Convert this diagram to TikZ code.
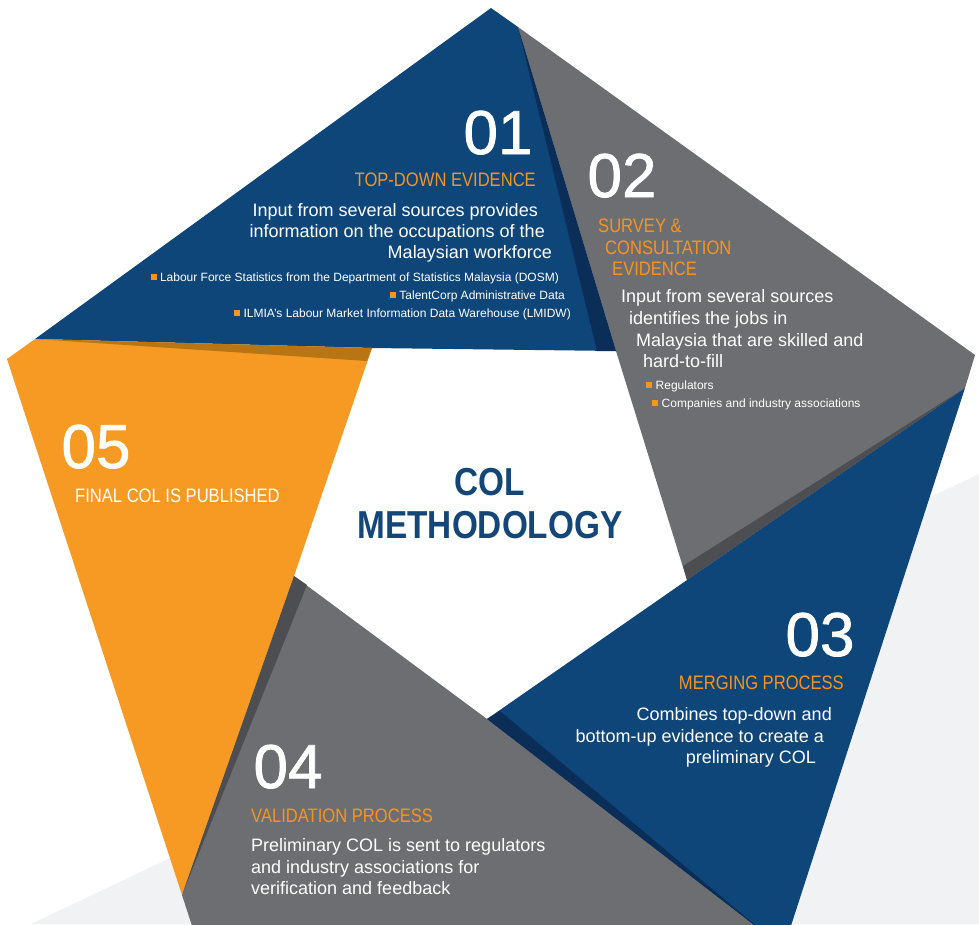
\documentclass[tikz,border=0pt]{standalone}
\usepackage{fontspec}
\setmainfont{Liberation Sans}
\newfontfamily\numfont{Liberation Sans}[FakeBold=1.2]
\usepackage{graphicx}
\definecolor{cblue}{RGB}{15,70,122}
\definecolor{cdblue}{RGB}{10,46,88}
\definecolor{cgray}{RGB}{109,110,113}
\definecolor{cdgray}{RGB}{77,78,81}
\definecolor{corange}{RGB}{246,154,35}
\definecolor{cbrown}{RGB}{184,117,20}
\definecolor{torange}{RGB}{247,148,29}
\definecolor{tblue}{RGB}{20,70,120}
\definecolor{bglight}{RGB}{241,242,244}
\newcommand\hd[1]{\scalebox{0.85}[1]{\fontsize{19.5}{22}\selectfont #1}}
\newcommand\bsq{\textcolor{torange}{\rule[1pt]{6pt}{6pt}}\hspace{3.5pt}}
\tikzset{
  body/.style={text=white, font=\fontsize{18}{21}\selectfont, inner sep=0pt},
  bul/.style={text=white, font=\fontsize{12}{14}\selectfont, inner sep=0pt},
  head/.style={text=torange, inner sep=0pt},
  num/.style={text=white, font=\numfont\fontsize{62}{62}\selectfont, inner sep=0pt, anchor=base},
  ctitle/.style={text=tblue, inner sep=0pt, anchor=base}
}
\begin{document}
\begin{tikzpicture}[x=1pt,y=-1pt]
\useasboundingbox (0,0) rectangle (979,924);
\clip (0,0) rectangle (979,924);
\fill[bglight] (31,924) -- (979,474) -- (979,924) -- cycle;
% outer vertices
\coordinate (Vt) at (491,8);
\coordinate (Vr) at (975,355);
\coordinate (Vbr) at (788,935);
\coordinate (Vbl) at (195,935);
\coordinate (Vl) at (7,359);
% inner vertices
\coordinate (Itl) at (372,348);
\coordinate (Itr) at (616,351);
\coordinate (Ir) at (687,580);
\coordinate (Ib) at (487,719);
\coordinate (Il) at (294,576);
% boundary points
\coordinate (P1) at (518,27);
\coordinate (P2) at (965,388);
\coordinate (P3) at (767,935);
\coordinate (P4) at (182,895);
\coordinate (P5) at (35,339);
% shadow points
\coordinate (Q1) at (597,351);
\coordinate (Q2) at (683,566);
\coordinate (Q3) at (500,711);
\coordinate (Q4) at (307,585);
\coordinate (Q5) at (367,361);
% inner white pentagon
\fill[white] (Itl) -- (Itr) -- (Ir) -- (Ib) -- (Il) -- cycle;
% regions
\fill[cblue] (P5) -- (Vt) -- (P1) -- (Itr) -- (Itl) -- cycle;
\fill[cgray] (P1) -- (Vr) -- (P2) -- (Ir) -- (Itr) -- cycle;
\fill[cblue] (P2) -- (Vbr) -- (P3) -- (Ib) -- (Ir) -- cycle;
\fill[cgray] (P3) -- (Vbl) -- (P4) -- (Il) -- (Ib) -- cycle;
\fill[corange] (P4) -- (Vl) -- (P5) -- (Itl) -- (Il) -- cycle;
% shadows
\fill[cdblue] (P1) -- (Itr) -- (Q1) -- cycle;
\fill[cdgray] (P2) -- (Ir) -- (Q2) -- cycle;
\fill[cdblue] (P3) -- (Ib) -- (Q3) -- cycle;
\fill[cdgray] (P4) -- (Il) -- (Q4) -- cycle;
\fill[cbrown] (P5) -- (Itl) -- (Q5) -- cycle;
% centre
\node[ctitle] (c1) at (490,495) {\scalebox{0.855}[1]{\fontsize{39}{39}\selectfont\bfseries COL}};
\node[ctitle] (c2) at (490,538) {\scalebox{0.855}[1]{\fontsize{39}{39}\selectfont\bfseries METHODOLOGY}};
% 01
\node[num] (n1) at (498,154) {01};
\node[head, anchor=base east] (h1) at (536,186) {\hd{TOP-DOWN EVIDENCE}};
\node[body, anchor=base east] (t1a) at (538,216) {Input from several sources provides};
\node[body, anchor=base east] (t1b) at (545,237) {information on the occupations of the};
\node[body, anchor=base east] (t1c) at (552,258) {Malaysian workforce};
\node[bul, anchor=base east] (b1a) at (559,281) {\bsq Labour Force Statistics from the Department of Statistics Malaysia (DOSM)};
\node[bul, anchor=base east] (b1b) at (565,299) {\bsq TalentCorp Administrative Data};
\node[bul, anchor=base east] (b1c) at (571,317) {\bsq ILMIA’s Labour Market Information Data Warehouse (LMIDW)};
% 02
\node[num] (n2) at (622,197) {02};
\node[head, anchor=base west] (h2a) at (598,232) {\hd{SURVEY \&}};
\node[head, anchor=base west] (h2b) at (605,254) {\hd{CONSULTATION}};
\node[head, anchor=base west] (h2c) at (612,275) {\hd{EVIDENCE}};
\node[body, anchor=base west] (t2a) at (621,302) {Input from several sources};
\node[body, anchor=base west] (t2b) at (629,324) {identifies the jobs in};
\node[body, anchor=base west] (t2c) at (636,346) {Malaysia that are skilled and};
\node[body, anchor=base west] (t2d) at (643,367) {hard-to-fill};
\node[bul, anchor=base west] (b2a) at (646,389) {\bsq Regulators};
\node[bul, anchor=base west] (b2b) at (652,407) {\bsq Companies and industry associations};
% 03
\node[num] (n3) at (820,656) {03};
\node[head, anchor=base east] (h3) at (844,689) {\hd{MERGING PROCESS}};
\node[body, anchor=base east] (t3a) at (832,720) {Combines top-down and};
\node[body, anchor=base east] (t3b) at (824,742) {bottom-up evidence to create a};
\node[body, anchor=base east] (t3c) at (816,763) {preliminary COL};
% 04
\node[num] (n4) at (288,788) {04};
\node[head, anchor=base west] (h4) at (251,822) {\hd{VALIDATION PROCESS}};
\node[body, anchor=base west] (t4a) at (251,851) {Preliminary COL is sent to regulators};
\node[body, anchor=base west] (t4b) at (251,873) {and industry associations for};
\node[body, anchor=base west] (t4c) at (251,894) {verification and feedback};
% 05
\node[num] (n5) at (96,468) {05};
\node[head, text=white, anchor=base west] (h5) at (75,502) {\hd{FINAL COL IS PUBLISHED}};
\end{tikzpicture}
\end{document}
